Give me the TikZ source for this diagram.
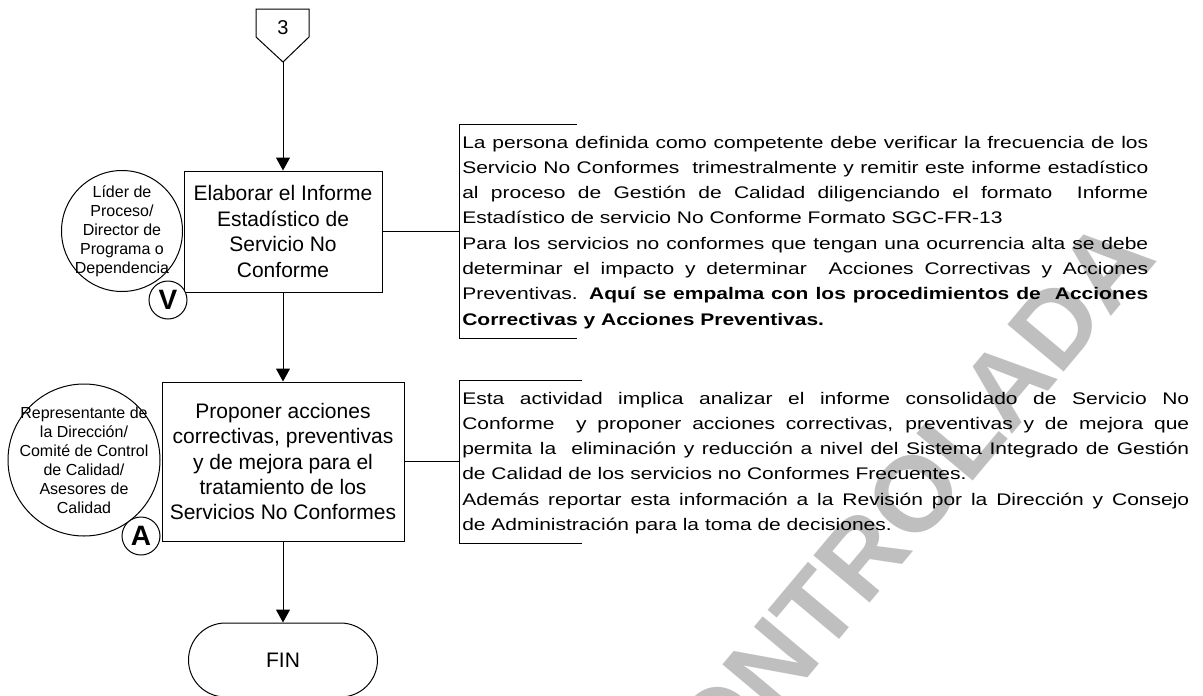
\documentclass[tikz,border=0pt]{standalone}
\usepackage{fontspec}
\setmainfont{Liberation Sans}
\newfontfamily\annfont[FakeStretch=1.25]{Liberation Sans}
\usetikzlibrary{arrows.meta,shapes.misc}
\begin{document}
\begin{tikzpicture}[x=0.75pt,y=-0.75pt,
  ln/.style={line width=0.75pt, draw=black},
  arr/.style={ln, -{Triangle[length=9.75pt,width=10.5pt]}},
  proc/.style={ln, rectangle, inner sep=0pt, align=center, font=\fontsize{15.75pt}{19.1pt}\selectfont},
  roleshape/.style={ln, circle, inner sep=0pt},
  roletext/.style={align=center, inner sep=0pt, font=\fontsize{12pt}{14.25pt}\selectfont},
  badge/.style={ln, circle, fill=white, inner sep=0pt, minimum size=28.5pt, font=\bfseries\fontsize{21pt}{24pt}\selectfont},
  term/.style={ln, rounded rectangle, inner sep=0pt, minimum width=141.75pt, minimum height=55.5pt, font=\fontsize{15.75pt}{19pt}\selectfont},
  annline/.style={anchor=base west, inner sep=0pt, font=\annfont\fontsize{12.6pt}{15pt}\selectfont},
  wm/.style={rotate=50, anchor=base east, inner sep=0pt, text=black!25, font=\bfseries\fontsize{80pt}{84pt}\selectfont}
]
\useasboundingbox (0,0) rectangle (1203,696);
\clip (0,0) rectangle (1203,696);
\fill[white] (0,0) rectangle (1203,696);

% watermark
\node[wm] (wmark) at (1159,259) {COPIA NO CONTROLADA};

% off-page connector 3
\draw[ln] (256,9) -- (309,9) -- (309,37) -- (283,62) -- (256,37) -- cycle;
\node[inner sep=0pt, font=\fontsize{15pt}{18pt}\selectfont] (c3) at (283,28) {3};
\coordinate (c3tip) at (283,62);

% process boxes
\node[proc, minimum width=148.5pt, minimum height=90.75pt] (b1) at (283,231.5)
  {Elaborar el Informe\\Estadístico de\\Servicio No\\Conforme};
\node[proc, minimum width=181.5pt, minimum height=119.25pt] (b2) at (283,461.5)
  {Proponer acciones\\correctivas, preventivas\\y de mejora para el\\tratamiento de los\\Servicios No Conformes};
\node[term] (fin) at (283,660) {FIN};

% arrows
\draw[arr] (c3tip) -- (b1.north);
\draw[arr] (b1.south) -- (b2.north);
\draw[arr] (b2.south) -- (fin.north);

% roles
\node[roleshape, minimum size=90.75pt] (r1) at (122,231) {};
\node[roletext] (r1t) at (r1.center) {Líder de\\Proceso/\\Director de\\Programa o\\Dependencia};
\node[roleshape, minimum size=114pt] (r2) at (84,460) {};
\node[roletext] (r2t) at (r2.center) {Representante de\\la Dirección/\\Comité de Control\\de Calidad/\\Asesores de\\Calidad};
\node[badge] (v1) at (168,300) {V};
\node[badge] (a2) at (141,536) {A};

% annotation brackets
\coordinate (k1t) at (577,124);
\coordinate (k1a) at (459,124);
\coordinate (k1b) at (459,338);
\coordinate (k1e) at (577,338);
\draw[ln] (k1t) -- (k1a) -- (k1b) -- (k1e);
\draw[ln] (b1.east) -- (b1.east -| k1a);

\coordinate (k2t) at (582,380);
\coordinate (k2a) at (459,380);
\coordinate (k2b) at (459,543);
\coordinate (k2e) at (582,543);
\draw[ln] (k2t) -- (k2a) -- (k2b) -- (k2e);
\draw[ln] (b2.east) -- (b2.east -| k2a);

% annotation 1
\node[annline] (a1l1) at (462,148.0) {\makebox[514.5pt][s]{La persona definida como competente debe verificar la frecuencia de los}};
\node[annline] (a1l2) at (462,173.3) {\makebox[514.5pt][s]{Servicio No Conformes\ \ trimestralmente y remitir este informe estadístico}};
\node[annline] (a1l3) at (462,198.6) {\makebox[514.5pt][s]{al proceso de Gestión de Calidad diligenciando el formato\ \ Informe}};
\node[annline] (a1l4) at (462,223.9) {Estadístico de servicio No Conforme Formato SGC-FR-13};
\node[annline] (a1l5) at (462,249.2) {\makebox[514.5pt][s]{Para los servicios no conformes que tengan una ocurrencia alta se debe}};
\node[annline] (a1l6) at (462,274.5) {\makebox[514.5pt][s]{determinar el impacto y determinar\ \ Acciones Correctivas y Acciones}};
\node[annline] (a1l7) at (462,299.8) {\makebox[514.5pt][s]{Preventivas. \textbf{Aquí se empalma con los procedimientos de\ \ Acciones}}};
\node[annline] (a1l8) at (462,325.1) {\textbf{Correctivas y Acciones Preventivas.}};

% annotation 2
\node[annline] (a2l1) at (462,404.0) {\makebox[545.25pt][s]{Esta actividad implica analizar el informe consolidado de Servicio No}};
\node[annline] (a2l2) at (462,429.3) {\makebox[545.25pt][s]{Conforme\ \ y proponer acciones correctivas, preventivas y de mejora que}};
\node[annline] (a2l3) at (462,454.6) {\makebox[545.25pt][s]{permita la\ \ eliminación y reducción a nivel del Sistema Integrado de Gestión}};
\node[annline] (a2l4) at (462,479.9) {de Calidad de los servicios no Conformes Frecuentes.};
\node[annline] (a2l5) at (462,505.2) {\makebox[545.25pt][s]{Además reportar esta información a la Revisión por la Dirección y Consejo}};
\node[annline] (a2l6) at (462,530.5) {de Administración para la toma de decisiones.};
\end{tikzpicture}
\end{document}
